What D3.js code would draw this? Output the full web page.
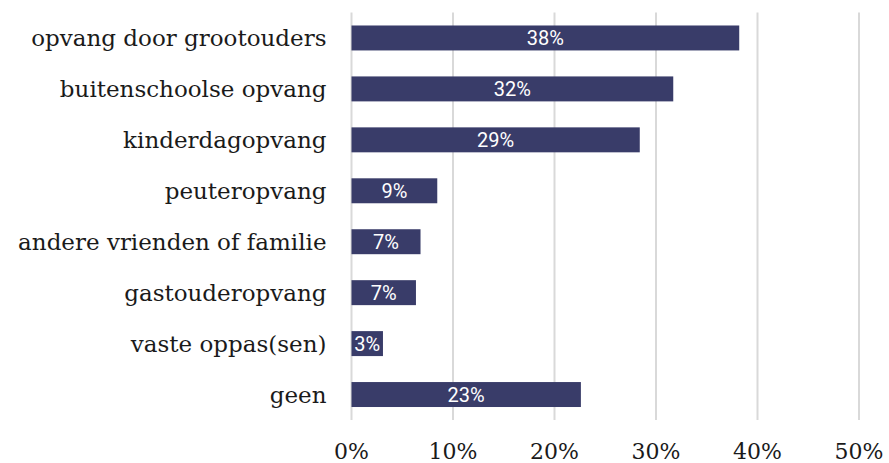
<!DOCTYPE html>
<html>
<head>
    <title>Opvang</title>
    <style>
        body { margin: 0; background: #fff; }
        .cat { font-family: "DejaVu Serif", serif; font-size: 23px; fill: #1a1a1a; }
        .tick-label { font-family: "DejaVu Serif", serif; font-size: 22px; fill: #1a1a1a; }
        .bar-label { font-family: Roboto, sans-serif; font-size: 20px; fill: #fff; }
    </style>
    <script src="https://d3js.org/d3.v7.min.js"></script>
</head>
<body>
    <div id="chart"></div>

    <script>
        var categories = ['opvang door grootouders', 'buitenschoolse opvang', 'kinderdagopvang',
            'peuteropvang', 'andere vrienden of familie', 'gastouderopvang', 'vaste oppas(sen)', 'geen'];
        var values = [38.2, 31.7, 28.4, 8.45, 6.8, 6.35, 3.1, 22.6];
        var valueLabels = ['38%', '32%', '29%', '9%', '7%', '7%', '3%', '23%'];
        var ticks = [0, 10, 20, 30, 40, 50];

        var width = 889, height = 463;

        var svg = d3.select('#chart').append('svg')
            .attr('width', width)
            .attr('height', height);

        var xScale = d3.scaleLinear()
            .domain([0, 50])
            .range([351.5, 859]);

        var yScale = d3.scaleBand()
            .domain(categories)
            .range([12.5, 420])
            .paddingInner(0.51)
            .paddingOuter(0.255);

        // gridlines
        svg.append('g')
            .selectAll('line')
            .data(ticks)
            .enter()
            .append('line')
            .attr('x1', function(d) { return xScale(d); })
            .attr('x2', function(d) { return xScale(d); })
            .attr('y1', yScale.range()[0])
            .attr('y2', yScale.range()[1])
            .attr('stroke', '#d9d9d9')
            .attr('stroke-width', 2);

        var rows = categories.map(function(c, i) {
            return { cat: c, value: values[i], label: valueLabels[i] };
        });

        svg.append('g')
            .selectAll('rect')
            .data(rows)
            .enter()
            .append('rect')
            .attr('x', xScale(0))
            .attr('y', function(d) { return yScale(d.cat); })
            .attr('width', function(d) { return xScale(d.value) - xScale(0); })
            .attr('height', yScale.bandwidth())
            .attr('fill', '#393c69');

        svg.append('g')
            .selectAll('text')
            .data(rows)
            .enter()
            .append('text')
            .attr('class', 'bar-label')
            .attr('x', function(d) { return (xScale(0) + xScale(d.value)) / 2; })
            .attr('y', function(d) { return yScale(d.cat) + yScale.bandwidth() / 2; })
            .attr('dy', '0.36em')
            .attr('text-anchor', 'middle')
            .text(function(d) { return d.label; });

        // category labels
        svg.append('g')
            .selectAll('text')
            .data(categories)
            .enter()
            .append('text')
            .attr('class', 'cat')
            .attr('x', xScale(0) - 25)
            .attr('y', function(d) { return yScale(d) + yScale.bandwidth() / 2; })
            .attr('dy', '0.36em')
            .attr('text-anchor', 'end')
            .text(function(d) { return d; });

        // x tick labels
        svg.append('g')
            .selectAll('text')
            .data(ticks)
            .enter()
            .append('text')
            .attr('class', 'tick-label')
            .attr('x', function(d) { return xScale(d); })
            .attr('y', 459)
            .attr('text-anchor', 'middle')
            .text(function(d) { return d + '%'; });
    </script>
</body>
</html>
